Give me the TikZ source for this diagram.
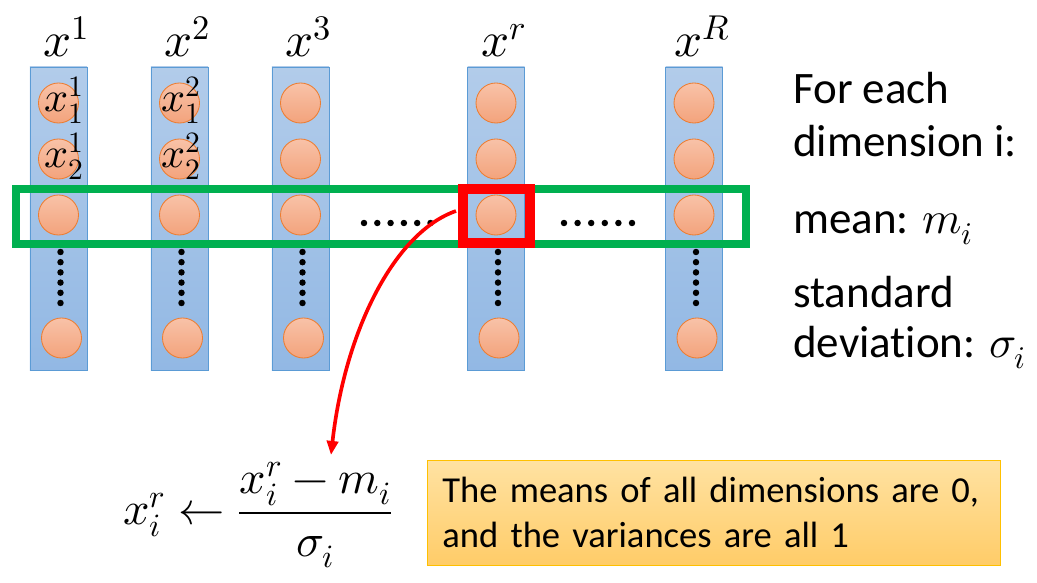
\documentclass[tikz,border=0pt]{standalone}
\usepackage{fontspec}
\usepackage{unicode-math}
\setmainfont{Carlito}[Ligatures=NoCommon]
\usetikzlibrary{arrows.meta,positioning}

\definecolor{coltop}{RGB}{178,204,234}
\definecolor{colbot}{RGB}{146,184,228}
\definecolor{colline}{RGB}{91,155,213}
\definecolor{unittop}{RGB}{248,194,168}
\definecolor{unitbot}{RGB}{243,163,124}
\definecolor{unitline}{RGB}{237,125,49}
\definecolor{rowgreen}{RGB}{0,176,80}
\definecolor{notetop}{RGB}{255,226,162}
\definecolor{notebot}{RGB}{255,204,104}
\definecolor{noteline}{RGB}{255,192,0}

\begin{document}
\begin{tikzpicture}[%
    x=0.025cm, y=-0.025cm,               % One unit is one pixel of the slide
    >={Triangle[length=10pt, width=8pt]}, % Filled arrow head
    ]
% -------------------------------------------------
% Styles for the feature columns and the boxes
\tikzset{
  feat/.style={draw=colline, line width=0.6pt, top color=coltop, bottom color=colbot,
    minimum width=1.425cm, minimum height=7.575cm, inner sep=0},
  unit/.style={circle, draw=unitline, line width=0.6pt, top color=unittop,
    bottom color=unitbot, minimum size=1cm, inner sep=0},
  bead/.style={circle, fill=black, inner sep=0, minimum size=4.6pt},
  lbl/.style={font=\fontsize{30}{36}\selectfont, inner sep=0},
  top/.style={font=\fontsize{35}{40}\selectfont, inner sep=0, anchor=base},
  txt/.style={font=\fontsize{32}{38}\selectfont, anchor=base west, inner sep=0},
  note/.style={draw=noteline, line width=0.6pt, top color=notetop, bottom color=notebot,
    font=\fontsize{26}{32}\selectfont, align=left, inner xsep=0.375cm,
    minimum width=14.325cm, minimum height=2.625cm, text width=13.575cm},
}
\useasboundingbox (0,0) rectangle (1037,583);
% -------------------------------------------------
% The feature vectors x^1 ... x^R
\foreach \n/\x in {1/58.5, 2/179.5, 3/300.5, r/496, R/694} {
  \node [feat] (col\n) at (\x,218.5) {};
  \foreach \k/\y in {1/103, 2/159, 3/215}
    \node [unit] (u\n-\k) at (\x,\y) {};
  \foreach \j in {0,...,5}
    \node [bead] (v\n-\j) at (\x+2,252+10.2*\j) {};
  \node [unit] (u\n-N) at (\x+3,338) {};
  \node [top] (lab\n) at (\x+8,57) {$x^{\n}$};
}
% Components written inside the first two vectors
\node [lbl, anchor=base] (lab1-1) at (64,112) {$x_1^1$};
\node [lbl, anchor=base] (lab1-2) at (64,168) {$x_2^1$};
\node [lbl, anchor=base] (lab2-1) at (181,112) {$x_1^2$};
\node [lbl, anchor=base] (lab2-2) at (181,168) {$x_2^2$};
% Dots between the columns
\foreach \j in {0,...,5} {
  \node [bead] (ha-\j) at (364+13.3*\j,223) {};
  \node [bead] (hb-\j) at (564+13.6*\j,223) {};
}
% -------------------------------------------------
% Dimension i across all vectors, and the picked element
\node [draw=rowgreen, line width=5.7pt, minimum width=18.25cm, minimum height=1.375cm,
  inner sep=0] (row) at (381,216.5) {};
\coordinate (tip) at (331,455);
\draw [->, red, line width=2.6pt] (456,211) coordinate (start)
  .. controls (395,232) and (345,330) .. (tip);
\node [draw=red, line width=7pt, minimum width=1.675cm, minimum height=1.35cm,
  inner sep=0] (pick) at (496.5,216) {};
% -------------------------------------------------
% Text on the right
\node [txt] (t1) at (793,104) {For each};
\node [txt] (t2) at (793,157) {dimension i:};
\node [txt] (t3) at (793,233) {mean: $m_i$};
\node [txt] (t4) at (793,307) {standard};
\node [txt] (t5) at (793,357) {deviation: $\sigma_i$};
% -------------------------------------------------
% Update rule and note
\node [lbl, anchor=west, font=\fontsize{33}{38}\selectfont] (upd) at (123,515)
  {$x_i^r \leftarrow \displaystyle\frac{x_i^r - m_i}{\sigma_i}$};
\node [note, anchor=north west] (note) at (427,460)
  {The means of all dimensions are 0,\\and the variances are all 1};
% -------------------------------------------------
\end{tikzpicture}
\end{document}
